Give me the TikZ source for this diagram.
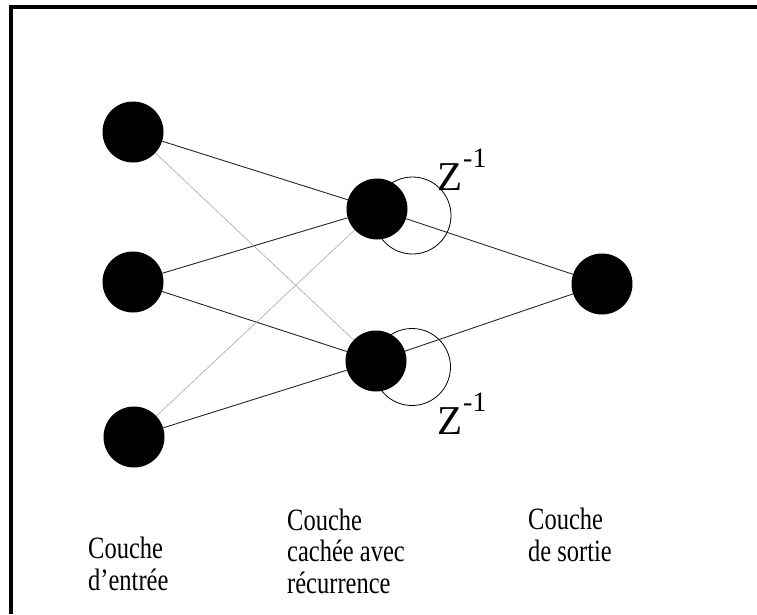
\documentclass[tikz,border=0pt]{standalone}
\usepackage{fontspec}
\setmainfont{Liberation Serif}
\newfontfamily\captionfont[FakeStretch=0.79]{Liberation Serif}
\begin{document}
\begin{tikzpicture}[x=1pt,y=-1pt,
  neuron/.style={circle,fill=black,minimum size=61pt,inner sep=0pt},
  link/.style={line width=0.9pt,black!85},
  faint/.style={line width=0.6pt,black!35},
  delay/.style={line width=0.8pt},
  caption/.style={anchor=base west,align=left,inner sep=0pt,font=\captionfont\fontsize{31}{31.5}\selectfont},
  zbig/.style={anchor=base west,inner sep=0pt,font=\fontsize{41}{41}\selectfont},
  zsup/.style={anchor=base west,inner sep=0pt,font=\fontsize{28}{28}\selectfont}]
\useasboundingbox (0,0) rectangle (757,614);
% frame
\draw[line width=3.2pt] (11,614) -- (11,7) -- (757,7);
% recurrent loops on the hidden layer (behind the neurons)
\coordinate (l1) at (412.5,215.5);
\coordinate (l2) at (412,367);
\draw[delay] (l1) circle (38.5);
\draw[delay] (l2) circle (38.5);
% neurons
\node[neuron] (i1) at (133,132) {};
\node[neuron] (i2) at (133,282) {};
\node[neuron] (i3) at (134,437) {};
\node[neuron] (h1) at (377,209) {};
\node[neuron] (h2) at (376,361) {};
\node[neuron] (o)  at (602,284) {};
% connections
\draw[link] (i1) -- (h1);
\draw[link] (i2) -- (h1);
\draw[link] (i2) -- (h2);
\draw[link] (i3) -- (h2);
\draw[faint] (i1) -- (h2);
\draw[faint] (i3) -- (h1);
\draw[link] (h1) -- (o);
\draw[link] (h2) -- (o);
% delay labels
\node[zbig] (z1) at (437,190) {Z};
\node[zsup] (e1) at (463,167) {-1};
\node[zbig] (z2) at (437,434) {Z};
\node[zsup] (e2) at (463,411) {-1};
% layer captions (anchored on the baseline of the last line)
\node[caption] (c1) at (88,590) {Couche\\d’entrée};
\node[caption] (c2) at (287,593) {Couche\\cachée avec\\récurrence};
\node[caption] (c3) at (528,561) {Couche\\de sortie};
\end{tikzpicture}
\end{document}
